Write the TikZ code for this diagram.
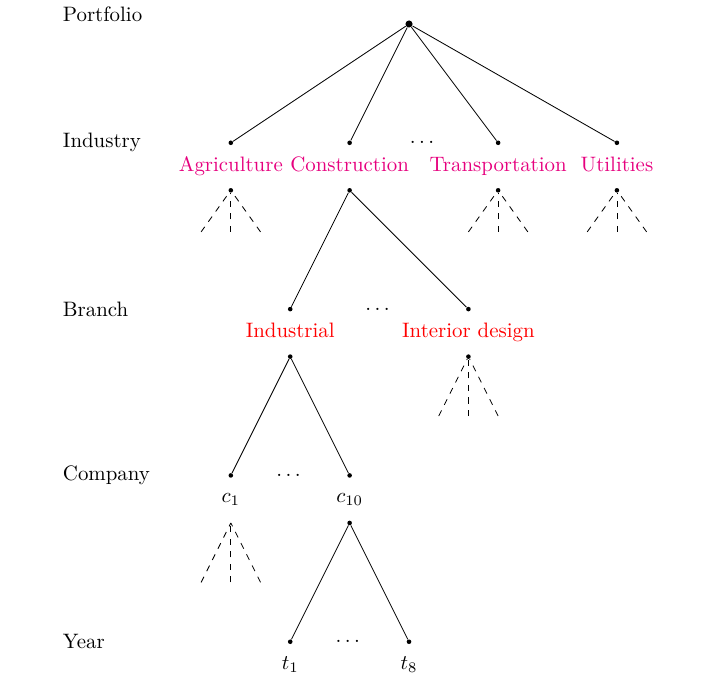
\documentclass[tikz,border=0pt]{standalone}
\usepackage{amsmath}
\usepackage{tikz}
\definecolor{indcol}{RGB}{230,0,126}

\begin{document}
\begin{tikzpicture}[dot/.style={circle,fill,inner sep=0pt,minimum size=2.2pt},
  rootdot/.style={dot,minimum size=3.4pt},
  indname/.style={anchor=base,text=indcol},
  brname/.style={anchor=base,text=red}]
\useasboundingbox (-6.886,0.404) rectangle (5.168,-10.976);

\node[anchor=west] (lport) at (-5.95,0.17) {Portfolio};
\node[anchor=west] (lind) at (-5.95,-2) {Industry};
\node[anchor=west] (lbr) at (-5.95,-4.8) {Branch};
\node[anchor=west] (lcomp) at (-5.95,-7.6) {Company};
\node[anchor=west] (lyear) at (-5.95,-10.4) {Year};

\node[rootdot] (port) at (0,0) {};

\node[dot] (agri) at (-3,-2) {};
\node[dot] (cons) at (-1,-2) {};
\node (inddots) at (0.25,-2) {$\dots$};
\node[dot] (trans) at (1.5,-2) {};
\node[dot] (util) at (3.5,-2) {};

\node[indname] (agrin) at (-3,-2.48) {Agriculture};
\node[indname] (consn) at (-1,-2.48) {Construction};
\node[indname] (transn) at (1.5,-2.48) {Transportation};
\node[indname] (utiln) at (3.5,-2.48) {Utilities};

\node[dot] (agrib) at (-3,-2.8) {};
\node[dot] (consb) at (-1,-2.8) {};
\node[dot] (transb) at (1.5,-2.8) {};
\node[dot] (utilb) at (3.5,-2.8) {};

\node[dot] (ind) at (-2,-4.8) {};
\node (brdots) at (-0.5,-4.8) {$\dots$};
\node[dot] (int) at (1,-4.8) {};
\node[brname] (indn) at (-2,-5.28) {Industrial};
\node[brname] (intn) at (1,-5.28) {Interior design};
\node[dot] (indb) at (-2,-5.6) {};
\node[dot] (intb) at (1,-5.6) {};

\node[dot] (c1) at (-3,-7.6) {};
\node (compdots) at (-2,-7.6) {$\dots$};
\node[dot] (c10) at (-1,-7.6) {};
\node (c1n) at (-3,-8.0) {$c_1$};
\node (c10n) at (-1,-8.0) {$c_{10}$};
\coordinate (c1b) at (-3,-8.4);
\node[dot] (c10b) at (-1,-8.4) {};

\node[dot] (t1) at (-2,-10.4) {};
\node (yeardots) at (-1,-10.4) {$\dots$};
\node[dot] (t8) at (0,-10.4) {};
\node (t1n) at (-2,-10.78) {$t_1$};
\node (t8n) at (0,-10.78) {$t_8$};

\foreach \n in {agri,cons,trans,util}
  \draw (port) -- (\n);
\draw (consb) -- (ind);
\draw (consb) -- (int);
\draw (indb) -- (c1);
\draw (indb) -- (c10);
\draw (c10b) -- (t1);
\draw (c10b) -- (t8);

\foreach \n/\len in {agrib/0.7,transb/0.7,utilb/0.7,intb/1,c1b/1}
  \foreach \dx [count=\i] in {-0.5,0,0.5}
    {\path (\n) ++(\dx,-\len) coordinate (\n\i);
     \draw[dashed] (\n\i) -- (\n);}
\end{tikzpicture}
\end{document}
